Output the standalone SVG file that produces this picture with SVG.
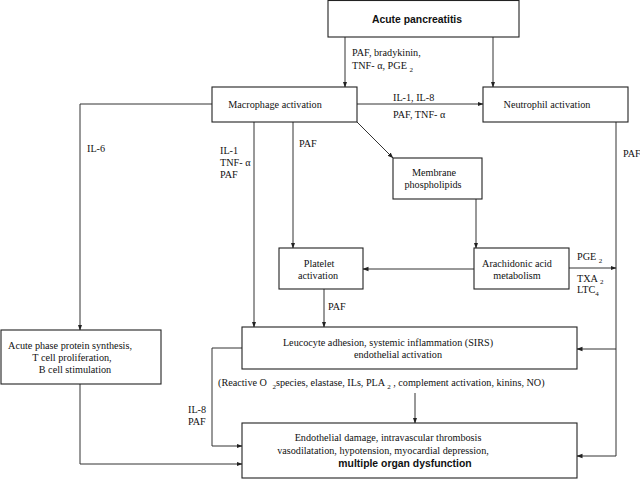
<svg xmlns="http://www.w3.org/2000/svg" width="640" height="479" viewBox="0 0 640 479">
<style>
text{font-family:"Liberation Serif","Times New Roman",serif;font-size:10.2px;fill:#111}
.b{font-family:"Liberation Sans",Arial,sans-serif;font-weight:bold;font-size:10.4px}
.m{text-anchor:middle}
.s{font-size:7px}
rect{fill:#fff;stroke:#222;stroke-width:1.1}
.c path{fill:none;stroke:#333;stroke-width:1}
</style>
<defs>
<marker id="a" markerWidth="6" markerHeight="6" refX="5.5" refY="3" orient="auto" markerUnits="userSpaceOnUse">
<path d="M0,0.8 L6,3 L0,5.2 Z" fill="#222"/>
</marker>
</defs>
<rect x="0" y="0" width="640" height="479" style="fill:#fff;stroke:none"/>
<g class="c" id="connectors">
<path d="M345,37 V87" marker-end="url(#a)"/>
<path d="M493,37 V87" marker-end="url(#a)"/>
<path d="M357,104 H483" marker-end="url(#a)"/>
<path d="M212,104 H80 V330" marker-end="url(#a)"/>
<path d="M254,122 V327" marker-end="url(#a)"/>
<path d="M293,122 V248" marker-end="url(#a)"/>
<path d="M357,122 L393,158" marker-end="url(#a)"/>
<path d="M476,199 V248" marker-end="url(#a)"/>
<path d="M474,269 H363" marker-end="url(#a)"/>
<path d="M569,268 H616" marker-end="url(#a)"/>
<path d="M616,122 V456"/>
<path d="M616,349 H577" marker-end="url(#a)"/>
<path d="M616,456 H577" marker-end="url(#a)"/>
<path d="M324,289 V327" marker-end="url(#a)"/>
<path d="M80,384 V464 H242" marker-end="url(#a)"/>
<path d="M242,348 H212 V446 H242" marker-end="url(#a)"/>
<path d="M415,393 V423" marker-end="url(#a)"/>
</g>
<g id="labels">
<text x="352" y="56">PAF, bradykinin,</text>
<text x="352" y="69">TNF- α, PGE <tspan class="s" dy="3">2</tspan></text>
<text x="393" y="101">IL-1, IL-8</text>
<text x="393" y="118">PAF, TNF- α</text>
<text x="87" y="152">IL-6</text>
<text x="220" y="154">IL-1</text>
<text x="220" y="166">TNF- α</text>
<text x="220" y="178">PAF</text>
<text x="299" y="147">PAF</text>
<text x="623" y="157">PAF</text>
<text x="577" y="260">PGE <tspan class="s" dy="3">2</tspan></text>
<text x="577" y="282">TXA <tspan class="s" dy="2">2</tspan></text>
<text x="577" y="293">LTC<tspan class="s" dy="3">4</tspan></text>
<text x="328" y="310">PAF</text>
<text x="188" y="413">IL-8</text>
<text x="188" y="425">PAF</text>
<text x="218" y="386">(Reactive O <tspan class="s" dx="3" dy="3">2</tspan><tspan dy="-3">species, elastase, ILs, PLA </tspan><tspan class="s" dy="3">2</tspan><tspan dy="-3"> , complement activation, kinins, NO)</tspan></text>
</g>
<g id="acute-pancreatitis">
<rect x="328" y="0.5" width="191" height="36.5"/>
<text class="b m" x="417" y="23">Acute pancreatitis</text>
</g>
<g id="macrophage">
<rect x="212" y="87" width="145" height="35"/>
<text class="m" x="275" y="108">Macrophage activation</text>
</g>
<g id="neutrophil">
<rect x="483" y="87" width="145" height="35"/>
<text class="m" x="547" y="108">Neutrophil activation</text>
</g>
<g id="membrane">
<rect x="393" y="158" width="89" height="41"/>
<text class="m" x="434" y="176">Membrane</text>
<text class="m" x="433" y="188">phospholipids</text>
</g>
<g id="platelet">
<rect x="279" y="248" width="84" height="41"/>
<text class="m" x="319" y="267">Platelet</text>
<text class="m" x="318" y="279">activation</text>
</g>
<g id="arachidonic">
<rect x="474" y="248" width="95" height="41"/>
<text class="m" x="517" y="267">Arachidonic acid</text>
<text class="m" x="517" y="279">metabolism</text>
</g>
<g id="acute-phase">
<rect x="1" y="330" width="160" height="54"/>
<text class="m" x="70" y="349">Acute phase protein synthesis,</text>
<text class="m" x="72" y="361">T cell proliferation,</text>
<text class="m" x="75" y="373">B cell stimulation</text>
</g>
<g id="leucocyte">
<rect x="242" y="327" width="335" height="42"/>
<text class="m" x="388" y="346">Leucocyte adhesion, systemic inflammation (SIRS)</text>
<text class="m" x="398" y="358">endothelial activation</text>
</g>
<g id="organ-dysfunction">
<rect x="242" y="423" width="335" height="55"/>
<text class="m" x="388" y="441">Endothelial damage, intravascular thrombosis</text>
<text class="m" x="383" y="454">vasodilatation, hypotension, myocardial depression,</text>
<text class="b m" x="405" y="467">multiple organ dysfunction</text>
</g>
</svg>
